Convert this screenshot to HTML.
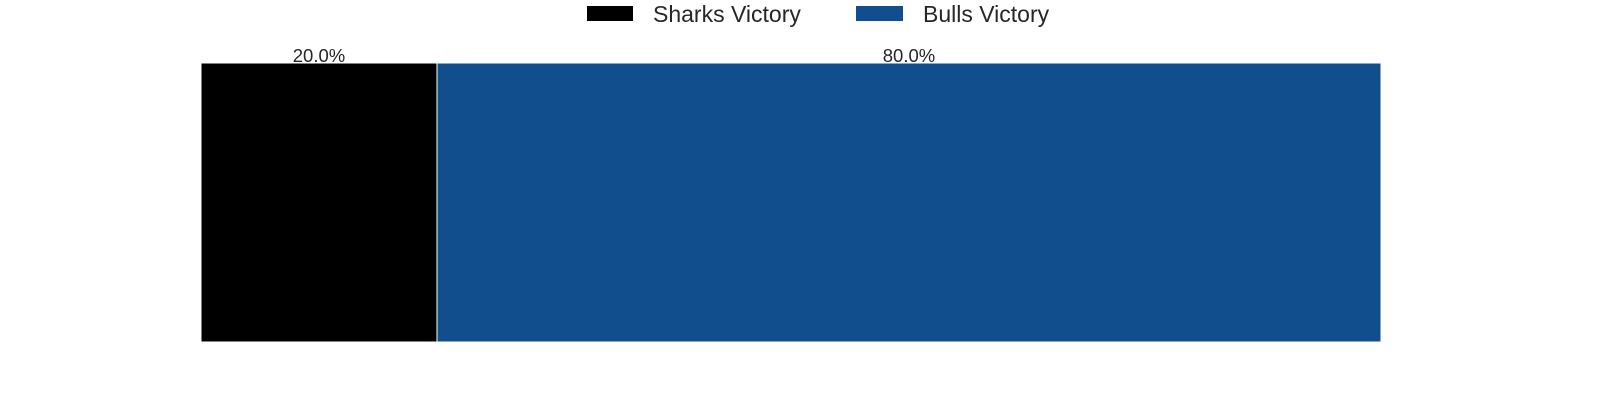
<!DOCTYPE html>
<html><head><meta charset="utf-8"><style>
body{margin:0;background:#fff;width:1600px;height:400px;overflow:hidden;font-family:"Liberation Sans",Arial,sans-serif}
</style></head><body>
<svg id="chart" width="1600" height="400" xmlns="http://www.w3.org/2000/svg">
<g>
<rect x="587" y="6" width="46" height="15" fill="#000000"/>
<text x="653" y="22" font-size="23" fill="#262626">Sharks Victory</text>
<rect x="856" y="6" width="47" height="15" fill="#114e8e"/>
<text x="923" y="22" font-size="23" fill="#262626">Bulls Victory</text>
</g>
<g id="bars"></g>
</svg>
<script>
const categories = ["Sharks Victory", "Bulls Victory"];
const values = [20.0, 80.0];
const colors = ["#000000", "#114e8e"];
const x0 = 201, x1 = 1381, yTop = 63, yBot = 342;
const total = values.reduce((a,b)=>a+b,0);
const xScale = v => x0 + (v/total)*(x1-x0);
const g = document.getElementById('bars');
const ns = "http://www.w3.org/2000/svg";
let cum = 0;
values.forEach((v,i)=>{
  const xa = xScale(cum), xb = xScale(cum+v);
  const r = document.createElementNS(ns,'rect');
  
  
  r.setAttribute('x', xa); r.setAttribute('y', yTop);
  r.setAttribute('width', xb-xa); r.setAttribute('height', yBot-yTop);
  r.setAttribute('fill', colors[i]); r.setAttribute('stroke','#fff'); r.setAttribute('stroke-width','1');
  g.appendChild(r);
  const t = document.createElementNS(ns,'text');
  
  
  t.setAttribute('x', (xa+xb)/2); t.setAttribute('y', 62);
  t.setAttribute('text-anchor','middle'); t.setAttribute('font-size','18.5'); t.setAttribute('fill','#262626');
  t.textContent = v.toFixed(1) + '%';
  g.appendChild(t);
  cum += v;
});
</script>
</body></html>
